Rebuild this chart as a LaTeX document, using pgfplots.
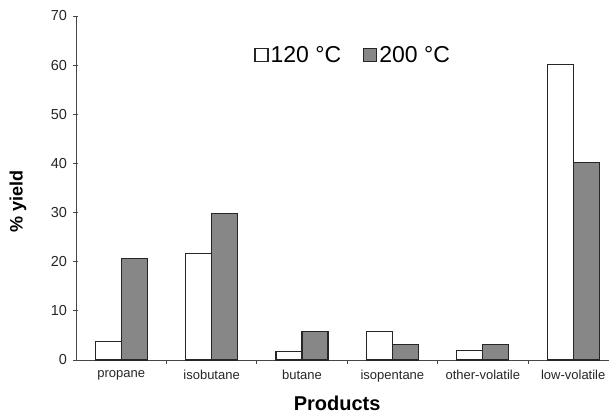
\documentclass[border=0pt]{standalone}
\usepackage{pgfplots}
\pgfplotsset{compat=1.18}
\usepackage{fontspec}
\setmainfont{Liberation Sans}
\definecolor{axgray}{RGB}{70,70,70}
\definecolor{bargray}{RGB}{135,135,135}
\begin{document}
\begin{tikzpicture}
\begin{axis}[
  at={(0pt,0pt)}, anchor=south west,
  scale only axis,
  width=533pt, height=344pt,
  xmin=-0.5, xmax=5.396,
  ymin=0, ymax=70,
  ytick={0,10,...,70},
  xtick={0,1,2,3,4,5},
  xticklabels={propane,isobutane,butane,isopentane,other-volatile,low-volatile},
  minor xtick={0.5,1.5,2.5,3.5,4.5},
  major x tick style={draw=none},
  minor tick length=4pt,
  major tick length=5pt,
  tick align=outside,
  axis x line=bottom, axis y line=left,
  axis line style={-, axgray, line width=0.8pt},
  every tick/.style={axgray, line width=0.8pt},
  ybar=0pt, bar width=26pt,
  /pgf/number format/assume math mode=true,
  xticklabel style={font=\fontsize{13}{15}\selectfont, text=black!85, yshift=-2pt},
  yticklabel style={font=\fontsize{14.5}{16}\selectfont, text=black!85, xshift=-3pt},
  ylabel={\% yield},
  ylabel style={font=\fontsize{18}{20}\selectfont\bfseries, at={(axis description cs:-0.109,0.46)}, anchor=center},
  xlabel={Products},
  xlabel style={font=\fontsize{20}{22}\selectfont\bfseries, inner sep=0pt, at={(axis description cs:0.49,-0.148)}, anchor=base},
  legend columns=2,
  legend style={draw=none, fill=none, at={(axis description cs:0.52,0.887)}, anchor=center,
    font=\fontsize{23}{25}\selectfont,
    /tikz/every even column/.append style={column sep=20pt}},
  legend image code/.code={\draw[#1, line width=1.2pt] (0pt,-6.5pt) rectangle (13pt,6.5pt);},
]
\addplot[draw=black!85, line width=1.2pt, fill=white] coordinates {(0,3.7) (1,21.7) (2,1.8) (3,5.8) (4,2.0) (5,60.2)};
\addplot[draw=black!85, line width=1.2pt, fill=bargray] coordinates {(0,20.6) (1,29.8) (2,5.8) (3,3.1) (4,3.2) (5,40.2)};
\legend{120 °C, 200 °C}
\end{axis}
\pgfresetboundingbox
\useasboundingbox (-76pt,-56pt) rectangle (533pt,360pt);
\end{tikzpicture}
\end{document}
